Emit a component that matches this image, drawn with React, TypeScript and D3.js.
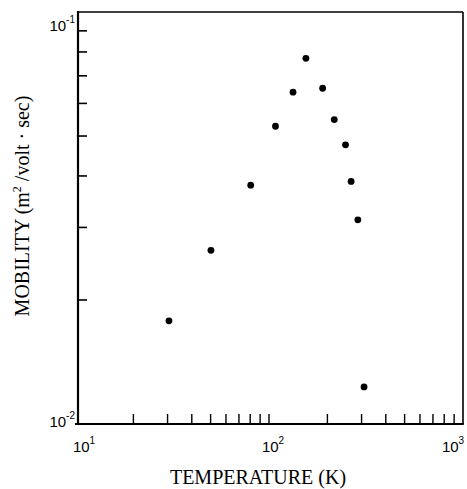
import React from "react";
import * as d3 from "d3";

const temperatures = [30.5, 50.2, 80.5, 108, 133, 155, 189, 217, 248, 265, 287, 309];
const mobilities = [0.0178, 0.0264, 0.038, 0.0528, 0.0639, 0.0772, 0.0653, 0.0548, 0.0476, 0.0388, 0.0313, 0.0123];
const xMinorTicks = [20, 30, 40, 50, 60, 70, 80, 90, 100, 200, 300, 400, 500, 600, 700, 800, 900];
const yMinorTicks = [0.02, 0.03, 0.04, 0.05, 0.06, 0.07, 0.08, 0.09];
const xTickLabels = [{ v: 10, exp: "1", dx: 9 }, { v: 100, exp: "2", dx: 4 }, { v: 1000, exp: "3", dx: -10 }];
const yTickLabels = [{ v: 0.1, exp: "-1", dy: 19 }, { v: 0.01, exp: "-2", dy: 3 }];

const W = 467;
const H = 489;
const left = 78;
const right = 463;
const top = 12;
const bottom = 424;

export default function App() {
  const x = d3.scaleLog().domain([10, 1000]).range([75, 463]);
  const y = d3.scaleLog().domain([0.01, 0.1]).range([bottom, top]);
  const tickFont = "'Liberation Sans', Arial, sans-serif";
  const serif = "'Liberation Serif', 'Times New Roman', serif";
  return (
    <svg width={W} height={H} style={{ position: "absolute", left: 0, top: 0, background: "#fff" }}>
      <rect x={0} y={0} width={W} height={H} fill="#fff" />
      {/* frame */}
      <line x1={left} y1={top} x2={right} y2={top} stroke="#000" strokeWidth={1.6} />
      <line x1={right} y1={top} x2={right} y2={bottom} stroke="#000" strokeWidth={1.6} />
      <line x1={left} y1={top - 1} x2={left} y2={bottom + 1} stroke="#000" strokeWidth={2.2} />
      <line x1={left - 3} y1={bottom} x2={right + 0.8} y2={bottom} stroke="#000" strokeWidth={2.2} />
      {/* x ticks */}
      {xMinorTicks.map((t) => (
        <line key={"xt" + t} x1={x(t)} x2={x(t)} y1={bottom} y2={bottom - 10} stroke="#000" strokeWidth={1.4} />
      ))}
      {/* y ticks */}
      {yMinorTicks.map((t) => (
        <line key={"yt" + t} x1={left} x2={left + 9} y1={y(t)} y2={y(t)} stroke="#000" strokeWidth={1.6} />
      ))}
      {/* x tick labels */}
      {xTickLabels.map((d) => (
        <text key={"xl" + d.v} x={x(d.v) + d.dx} y={452} textAnchor="middle" fontFamily={tickFont} fontSize={15} fill="#000">
          10<tspan dy={-8} fontSize={10}>{d.exp}</tspan>
        </text>
      ))}
      {/* y tick labels */}
      {yTickLabels.map((d) => (
        <text key={"yl" + d.v} x={left - 3} y={y(d.v) + d.dy} textAnchor="end" fontFamily={tickFont} fontSize={15} fill="#000">
          10<tspan dy={-8} fontSize={10}>{d.exp}</tspan>
        </text>
      ))}
      {/* points */}
      {temperatures.map((t, i) => (
        <circle key={"p" + i} cx={x(t)} cy={y(mobilities[i])} r={3.4} fill="#000" />
      ))}
      {/* axis titles */}
      <text x={258} y={484} textAnchor="middle" fontFamily={serif} fontSize={20} fill="#000">
        TEMPERATURE (K)
      </text>
      <text transform="translate(29,206) rotate(-90)" textAnchor="middle" fontFamily={serif} fontSize={20} fill="#000">
        MOBILITY (m<tspan dy={-8} fontSize={12}>2</tspan>
        <tspan dy={8}> /volt · sec)</tspan>
      </text>
    </svg>
  );
}
